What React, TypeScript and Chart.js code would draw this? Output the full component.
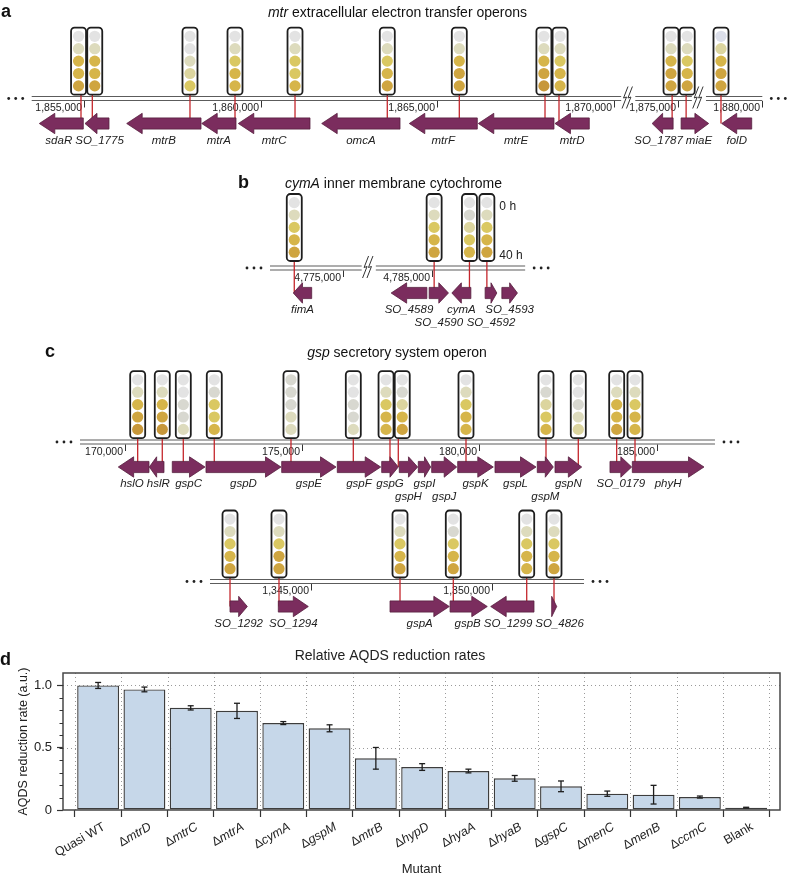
import React, { useEffect, useRef } from "react";
import { Chart, registerables } from "chart.js";

Chart.register(...registerables);

const FONT = '"Liberation Sans", Arial, Helvetica, sans-serif';
Chart.defaults.font.family = FONT;
Chart.defaults.color = "#222";

/* ===================== DATA ===================== */

// colour of each well (0 h ... 40 h), index into WELL_COLORS
const WELL_COLORS = ["#e3e3e3", "#d8d8d0", "#dddbbd", "#dcd59f", "#dac862", "#d6b54a", "#cfa540", "#c7973a", "#dcdfea"];

// ---- panel a : mtr extracellular electron transfer operons ----
const aTitle = ["mtr", " extracellular electron transfer operons"];
const aGenes = ["sdaR", "SO_1775", "mtrB", "mtrA", "mtrC", "omcA", "mtrF", "mtrE", "mtrD", "SO_1787", "miaE", "folD"];
const aStarts = [1853735, 1855028, 1856208, 1858331, 1859366, 1861726, 1864205, 1866157, 1868327, 1874276, 1875096, 1878851];
const aEnds = [1854980, 1855707, 1858311, 1859301, 1861395, 1863942, 1866129, 1868299, 1869298, 1874870, 1875877, 1879700];
const aStrands = [-1, -1, -1, -1, -1, -1, -1, -1, -1, -1, 1, -1];
const aRows = [0, 0, 0, 0, 0, 0, 0, 0, 0, 0, 0, 0];
const aInserts = [1854915, 1855235, 1857999, 1859273, 1860971, 1863582, 1865620, 1868045, 1868441, 1874842, 1875238, 1878831];
const aWells = [[0, 2, 5, 5, 6], [0, 2, 5, 5, 6], [0, 0, 2, 3, 4], [0, 2, 4, 5, 5], [0, 2, 4, 4, 5], [0, 2, 4, 5, 6], [0, 2, 5, 6, 6], [0, 2, 5, 6, 7], [0, 2, 4, 5, 5], [0, 2, 5, 6, 6], [0, 2, 4, 5, 6], [8, 3, 5, 6, 6]];
const aTicks = [1855000, 1860000, 1865000, 1870000, 1875000, 1880000];
const aSegments = [[1853520, 1870200], [1873800, 1875400], [1878406, 1880000]];

// ---- panel b : cymA inner membrane cytochrome ----
const bTitle = ["cymA", " inner membrane cytochrome"];
const bGenes = ["fimA", "SO_4589", "SO_4590", "cymA", "SO_4592", "SO_4593"];
const bStarts = [4773602, 4783848, 4784924, 4785566, 4786508, 4786981];
const bEnds = [4774123, 4784859, 4785470, 4786104, 4786839, 4787422];
const bStrands = [-1, -1, 1, -1, 1, 1];
const bRows = [0, 0, 1, 0, 1, 0];
const bInserts = [4773630, 4785065, 4786064, 4786557];
const bWells = [[0, 2, 4, 5, 6], [0, 2, 4, 5, 6], [0, 1, 3, 4, 5], [0, 2, 4, 5, 6]];
const bTicks = [4775000, 4785000];
const bSegments = [[4772943, 4775538], [4783415, 4787640]];
const bTimeLabels = ["0 h", "40 h"];

// ---- panel c : gsp secretory system operon (two loci) ----
const cTitle = ["gsp", " secretory system operon"];
const c1Genes = ["hslO", "hslR", "gspC", "gspD", "gspE", "gspF", "gspG", "gspH", "gspI", "gspJ", "gspK", "gspL", "gspM", "gspN", "SO_0179", "phyH"];
const c1Starts = [169811, 170686, 171334, 172285, 174421, 175989, 177242, 177738, 178274, 178652, 179386, 180438, 181631, 182131, 183682, 184312];
const c1Ends = [170677, 171100, 172257, 174401, 175953, 177214, 177710, 178257, 178624, 179358, 180390, 181595, 182083, 182884, 184294, 186334];
const c1Strands = [-1, -1, 1, 1, 1, 1, 1, 1, 1, 1, 1, 1, 1, 1, 1, 1];
const c1Rows = [0, 0, 0, 0, 0, 0, 0, 1, 0, 1, 0, 0, 1, 0, 0, 0];
const c1Inserts = [170358, 171052, 171645, 172519, 174683, 176441, 177476, 177710, 179620, 181877, 182788, 183871, 184388];
const c1Wells = [[0, 2, 5, 6, 7], [0, 2, 5, 6, 7], [0, 0, 1, 1, 2], [0, 1, 4, 4, 5], [1, 1, 1, 2, 2], [0, 0, 1, 1, 2], [0, 2, 4, 5, 5], [0, 1, 3, 5, 6], [0, 2, 4, 5, 5], [0, 1, 3, 4, 5], [0, 0, 1, 2, 3], [0, 2, 5, 5, 6], [0, 2, 4, 5, 5]];
const c1Ticks = [170000, 175000, 180000, 185000];
const c1Segments = [[168730, 186644]];

const c2Genes = ["SO_1292", "SO_1294", "gspA", "gspB", "SO_1299", "SO_4826"];
const c2Starts = [1342771, 1344105, 1347191, 1348850, 1349972, 1351657];
const c2Ends = [1343249, 1344934, 1348829, 1349878, 1351168, 1351796];
const c2Strands = [1, 1, 1, 1, -1, 1];
const c2Rows = [0, 0, 0, 0, 0, 0];
const c2Inserts = [1342771, 1344124, 1347467, 1348939, 1350967, 1351721];
const c2Wells = [[0, 2, 4, 5, 6], [0, 2, 4, 6, 6], [0, 2, 4, 5, 6], [0, 1, 4, 5, 6], [0, 2, 4, 5, 5], [0, 2, 4, 5, 6]];
const c2Ticks = [1345000, 1350000];
const c2Segments = [[1342218, 1352550]];

// ---- panel d : relative AQDS reduction rates ----
const dTitle = "Relative AQDS reduction rates";
const mutants = ["Quasi WT", "\u0394mtrD", "\u0394mtrC", "\u0394mtrA", "\u0394cymA", "\u0394gspM", "\u0394mtrB", "\u0394hypD", "\u0394hyaA", "\u0394hyaB", "\u0394gspC", "\u0394menC", "\u0394menB", "\u0394ccmC", "Blank"];
const rates = [1.0, 0.968, 0.82, 0.796, 0.698, 0.656, 0.415, 0.345, 0.313, 0.254, 0.19, 0.131, 0.123, 0.104, 0.019];
const rateErrors = [0.024, 0.019, 0.017, 0.061, 0.012, 0.028, 0.087, 0.027, 0.015, 0.023, 0.043, 0.021, 0.075, 0.008, 0.003];
const yTicks = [0, 0.5, 1.0];

/* ===================== LAYOUT ===================== */

const GAP_BP = 400; // display width of an axis break, in bp

const TRACKS = [
  { axis: "xa", range: [1852623, 1874921], lineY: 96.5, tubeGap: 1.8, genes: aGenes, starts: aStarts, ends: aEnds, strands: aStrands, rows: aRows, inserts: aInserts, wells: aWells, ticks: aTicks, segments: aSegments },
  { axis: "xb", range: [4765303, 4787601], lineY: 266, tubeGap: 5, genes: bGenes, starts: bStarts, ends: bEnds, strands: bStrands, rows: bRows, inserts: bInserts, wells: bWells, ticks: bTicks, segments: bSegments, times: bTimeLabels },
  { axis: "xc1", range: [166474, 188704], lineY: 440, tubeGap: 1.8, genes: c1Genes, starts: c1Starts, ends: c1Ends, strands: c1Strands, rows: c1Rows, inserts: c1Inserts, wells: c1Wells, ticks: c1Ticks, segments: c1Segments },
  { axis: "xc2", range: [1336417, 1358185], lineY: 579.5, tubeGap: 2, genes: c2Genes, starts: c2Starts, ends: c2Ends, strands: c2Strands, rows: c2Rows, inserts: c2Inserts, wells: c2Wells, ticks: c2Ticks, segments: c2Segments },
];

const HEADINGS = [
  { letter: "a", lx: 1, title: aTitle, cx: 397.5, y: 16.5 },
  { letter: "b", lx: 238, title: bTitle, cx: 393.5, y: 187.5 },
  { letter: "c", lx: 45, title: cTitle, cx: 397, y: 356.5 },
];

/* ===================== HELPERS ===================== */

function makeCompressor(segs: number[][]) {
  const skips = [0];
  for (let i = 1; i < segs.length; i++) skips.push(segs[i][0] - (segs[i - 1][1] - skips[i - 1]) - GAP_BP);
  return (g: number) => {
    let k = 0;
    for (let i = 0; i < segs.length; i++) if (g >= segs[i][0]) k = i;
    return g - skips[k];
  };
}

function spread(centers: number[], widths: number[], gap: number) {
  const order = centers.map((_, i) => i).sort((a, b) => centers[a] - centers[b]);
  const pos = order.map((i) => centers[i]);
  const w = order.map((i) => widths[i]);
  for (let it = 0; it < 300; it++) {
    let moved = false;
    for (let k = 1; k < pos.length; k++) {
      const need = (w[k - 1] + w[k]) / 2 + gap;
      const d = pos[k] - pos[k - 1];
      if (d < need - 0.01) {
        const s = (need - d) / 2;
        pos[k - 1] -= s;
        pos[k] += s;
        moved = true;
      }
    }
    if (!moved) break;
  }
  const out: number[] = new Array(centers.length);
  order.forEach((i, k) => (out[i] = pos[k]));
  return out;
}

function fontStr(size: number, italic = false, weight = "normal") {
  return `${italic ? "italic " : ""}${weight} ${size}px ${FONT}`;
}

function drawMixed(ctx: any, parts: [string, boolean][], x: number, y: number, align: string, size: number, weight = "normal") {
  const widths = parts.map(([t, it]) => {
    ctx.font = fontStr(size, it, weight);
    return ctx.measureText(t).width;
  });
  const total = widths.reduce((s, v) => s + v, 0);
  let cx = align === "center" ? x - total / 2 : align === "right" ? x - total : x;
  ctx.textAlign = "left";
  parts.forEach(([t, it], i) => {
    ctx.font = fontStr(size, it, weight);
    ctx.fillText(t, cx, y);
    cx += widths[i];
  });
}

function line(ctx: any, x1: number, y1: number, x2: number, y2: number) {
  ctx.beginPath();
  ctx.moveTo(x1, y1);
  ctx.lineTo(x2, y2);
  ctx.stroke();
}

function tubePath(ctx: any, x0: number, y0: number, w: number, h: number, r: number) {
  ctx.beginPath();
  ctx.moveTo(x0 + r, y0);
  ctx.lineTo(x0 + w - r, y0);
  ctx.arcTo(x0 + w, y0, x0 + w, y0 + r, r);
  ctx.lineTo(x0 + w, y0 + h - r);
  ctx.arcTo(x0 + w, y0 + h, x0 + w - r, y0 + h, r);
  ctx.lineTo(x0 + r, y0 + h);
  ctx.arcTo(x0, y0 + h, x0, y0 + h - r, r);
  ctx.lineTo(x0, y0 + r);
  ctx.arcTo(x0, y0, x0 + r, y0, r);
  ctx.closePath();
}

const TUBE_W = 15;
const TUBE_H = 67;

function drawTube(ctx: any, cx: number, bottom: number, wells: number[]) {
  const x0 = cx - TUBE_W / 2;
  const y0 = bottom - TUBE_H;
  tubePath(ctx, x0, y0, TUBE_W, TUBE_H, 3.5);
  ctx.fillStyle = "#ffffff";
  ctx.fill();
  wells.forEach((c, i) => {
    ctx.beginPath();
    ctx.arc(cx, y0 + 8.6 + i * 12.4, 5.6, 0, Math.PI * 2);
    ctx.fillStyle = WELL_COLORS[c];
    ctx.fill();
  });
  tubePath(ctx, x0, y0, TUBE_W, TUBE_H, 3.5);
  ctx.lineWidth = 1.8;
  ctx.strokeStyle = "#1e1e1e";
  ctx.stroke();
}

function drawArrow(ctx: any, xa: number, xb: number, strand: number, cy: number) {
  const x1 = Math.min(xa, xb);
  const x2 = Math.max(xa, xb);
  const len = x2 - x1;
  const head = len < 8 ? len : Math.min(15.5, len * 0.5);
  const bh = 5.6;
  const hh = 10.2;
  ctx.beginPath();
  if (strand > 0) {
    const hx = x2 - head;
    ctx.moveTo(x1, cy - bh);
    ctx.lineTo(hx, cy - bh);
    ctx.lineTo(hx, cy - hh);
    ctx.lineTo(x2, cy);
    ctx.lineTo(hx, cy + hh);
    ctx.lineTo(hx, cy + bh);
    ctx.lineTo(x1, cy + bh);
  } else {
    const hx = x1 + head;
    ctx.moveTo(x2, cy - bh);
    ctx.lineTo(hx, cy - bh);
    ctx.lineTo(hx, cy - hh);
    ctx.lineTo(x1, cy);
    ctx.lineTo(hx, cy + hh);
    ctx.lineTo(hx, cy + bh);
    ctx.lineTo(x2, cy + bh);
  }
  ctx.closePath();
  ctx.fillStyle = "#7b2d5e";
  ctx.fill();
  ctx.lineWidth = 0.8;
  ctx.strokeStyle = "#57203f";
  ctx.stroke();
}

function drawBreak(ctx: any, cx: number, cy: number) {
  ctx.strokeStyle = "#333";
  ctx.lineWidth = 1;
  for (const dx of [-2.2, 2.2]) {
    ctx.beginPath();
    ctx.moveTo(cx + dx + 3, cy - 11);
    ctx.lineTo(cx + dx - 1.5, cy + 0.5);
    ctx.lineTo(cx + dx + 1.5, cy - 0.5);
    ctx.lineTo(cx + dx - 3, cy + 11);
    ctx.stroke();
  }
}

function drawTrack(ctx: any, scale: any, t: any) {
  const comp = makeCompressor(t.segments);
  const px = (g: number) => scale.getPixelForValue(comp(g));
  const L = t.lineY;

  // genome double line
  ctx.strokeStyle = "#5c5c5c";
  ctx.lineWidth = 1.1;
  t.segments.forEach(([s, e]: number[]) => {
    const x1 = px(s);
    const x2 = px(e);
    line(ctx, x1, L, x2, L);
    line(ctx, x1, L + 4, x2, L + 4);
  });
  // dots
  const first = px(t.segments[0][0]);
  const last = px(t.segments[t.segments.length - 1][1]);
  ctx.fillStyle = "#222";
  for (const d of [9, 16, 23]) {
    ctx.beginPath();
    ctx.arc(first - d, L + 2, 1.4, 0, Math.PI * 2);
    ctx.fill();
    ctx.beginPath();
    ctx.arc(last + d, L + 2, 1.4, 0, Math.PI * 2);
    ctx.fill();
  }
  // breaks
  for (let i = 1; i < t.segments.length; i++) {
    const cx = (px(t.segments[i - 1][1]) + px(t.segments[i][0])) / 2 - 1;
    drawBreak(ctx, cx, L + 1);
  }
  // ticks
  ctx.strokeStyle = "#333";
  ctx.lineWidth = 1;
  ctx.fillStyle = "#222";
  ctx.font = fontStr(10.5);
  ctx.textAlign = "right";
  ctx.textBaseline = "alphabetic";
  t.ticks.forEach((g: number) => {
    const x = Math.round(px(g)) + 0.5;
    line(ctx, x, L + 4.5, x, L + 11);
    ctx.fillText(g.toLocaleString("en-US"), x - 2.5, L + 14.5);
  });

  const ins = t.inserts.map(px);
  const tubeX = spread(ins, ins.map(() => TUBE_W), 1.2);
  const tubeBottom = L - t.tubeGap;
  const arrowY = L + 27;

  // red insertion lines
  ctx.strokeStyle = "#c4262c";
  ctx.lineWidth = 1.3;
  ins.forEach((x: number) => line(ctx, x, tubeBottom, x, arrowY));

  // gene arrows
  t.genes.forEach((_: string, i: number) => drawArrow(ctx, px(t.starts[i]), px(t.ends[i]), t.strands[i], arrowY));

  // tubes
  tubeX.forEach((x: number, i: number) => drawTube(ctx, x, tubeBottom, t.wells[i]));

  // time labels
  if (t.times) {
    const xr = Math.max(...tubeX) + TUBE_W / 2 + 5;
    const y0 = tubeBottom - TUBE_H;
    ctx.fillStyle = "#222";
    ctx.font = fontStr(12);
    ctx.textAlign = "left";
    ctx.fillText(t.times[0], xr, y0 + 8.6 + 7);
    ctx.fillText(t.times[1], xr, y0 + 8.6 + 4 * 12.4 + 7);
  }

  // gene labels
  ctx.fillStyle = "#222";
  ctx.font = fontStr(11.5, true);
  ctx.textAlign = "center";
  for (const row of [0, 1]) {
    const idx = t.genes.map((_: string, i: number) => i).filter((i: number) => t.rows[i] === row);
    if (!idx.length) continue;
    const centers = idx.map((i: number) => (px(t.starts[i]) + px(t.ends[i])) / 2);
    const widths = idx.map((i: number) => ctx.measureText(t.genes[i]).width);
    const pos = spread(centers, widths, 3);
    idx.forEach((i: number, k: number) => ctx.fillText(t.genes[i], pos[k], L + 47 + row * 13));
  }
}

const diagramPlugin = {
  id: "diagram",
  afterDraw(chart: any) {
    const ctx = chart.ctx;
    ctx.save();
    TRACKS.forEach((t) => drawTrack(ctx, chart.scales[t.axis], t));
    ctx.fillStyle = "#111";
    ctx.textBaseline = "alphabetic";
    HEADINGS.forEach((h) => {
      ctx.font = fontStr(18, false, "bold");
      ctx.textAlign = "left";
      ctx.fillText(h.letter, h.lx, h.y);
      drawMixed(ctx, [[h.title[0], true], [h.title[1], false]], h.cx, h.y, "center", 14);
    });
    ctx.restore();
  },
};

function diagramConfig(): any {
  const scales: any = { y: { type: "linear", display: false, min: 0, max: 1 } };
  TRACKS.forEach((t) => {
    scales[t.axis] = { type: "linear", axis: "x", position: "bottom", display: false, min: t.range[0], max: t.range[1] };
  });
  return {
    type: "scatter",
    data: { datasets: [] },
    options: {
      animation: false,
      responsive: false,
      events: [],
      layout: { padding: 0 },
      plugins: { legend: { display: false }, tooltip: { enabled: false } },
      scales,
    },
    plugins: [diagramPlugin],
  };
}

/* ===================== PANEL d ===================== */

const barDecor = {
  id: "barDecor",
  beforeDatasetsDraw(chart: any) {
    const { ctx, chartArea: a, scales } = chart;
    const x = scales.x;
    const y = scales.y;
    ctx.save();
    ctx.strokeStyle = "#9a9a9a";
    ctx.lineWidth = 1;
    ctx.setLineDash([1, 3]);
    x.ticks.forEach((t: any) => {
      const p = Math.round(x.getPixelForValue(t.value)) + 0.5;
      line(ctx, p, a.top, p, a.bottom);
    });
    y.ticks.forEach((t: any) => {
      if (t.value <= 0) return;
      const p = Math.round(y.getPixelForValue(t.value)) + 0.5;
      line(ctx, a.left, p, a.right, p);
    });
    ctx.restore();
  },
  afterDatasetsDraw(chart: any) {
    const { ctx, chartArea: a, scales } = chart;
    const x = scales.x;
    const y = scales.y;
    ctx.save();
    // frame
    ctx.strokeStyle = "#474747";
    ctx.lineWidth = 1.5;
    ctx.strokeRect(a.left, a.top, a.right - a.left, a.bottom - a.top);
    // minor ticks
    ctx.lineWidth = 1;
    ctx.strokeStyle = "#333";
    for (let k = 1; k <= 10; k++) {
      const p = Math.round(y.getPixelForValue(k / 10)) + 0.5;
      line(ctx, a.left - 3.5, p, a.left, p);
    }
    // error bars
    ctx.strokeStyle = "#1e1e1e";
    ctx.lineWidth = 1.3;
    rates.forEach((v, i) => {
      const cx = x.getPixelForValue(i);
      const y1 = y.getPixelForValue(v + rateErrors[i]);
      const y2 = y.getPixelForValue(v - rateErrors[i]);
      line(ctx, cx, y1, cx, y2);
      line(ctx, cx - 3, y1, cx + 3, y1);
      line(ctx, cx - 3, y2, cx + 3, y2);
    });
    // category labels
    ctx.fillStyle = "#222";
    ctx.textBaseline = "middle";
    mutants.forEach((m, i) => {
      ctx.save();
      ctx.translate(x.getPixelForValue(i) + 6, a.bottom + 16);
      ctx.rotate(-Math.PI / 6);
      const parts: [string, boolean][] = m.startsWith("\u0394") ? [["\u0394", false], [m.slice(1), true]] : [[m, false]];
      drawMixed(ctx, parts, 0, 0, "right", 12.5);
      ctx.restore();
    });
    // x title
    ctx.font = fontStr(13);
    ctx.textAlign = "center";
    ctx.textBaseline = "middle";
    ctx.fillText("Mutant", (a.left + a.right) / 2, 229);
    // panel letter
    ctx.fillStyle = "#111";
    ctx.font = fontStr(18, false, "bold");
    ctx.textAlign = "left";
    ctx.textBaseline = "alphabetic";
    ctx.fillText("d", 0, 25);
    ctx.restore();
  },
};

function barConfig(): any {
  const boundaries = mutants.map((_, i) => i - 0.5).concat([mutants.length - 0.5]);
  return {
    type: "bar",
    data: {
      datasets: [
        {
          data: rates.map((v, i) => ({ x: i, y: v })),
          backgroundColor: "#c6d7e9",
          borderColor: "#3d3d3d",
          borderWidth: 1.4,
          borderSkipped: false,
          barPercentage: 0.905,
          categoryPercentage: 1,
        },
      ],
    },
    options: {
      animation: false,
      responsive: false,
      events: [],
      layout: { padding: { left: 0, right: 8, top: 0, bottom: 0 } },
      plugins: {
        legend: { display: false },
        tooltip: { enabled: false },
        title: { display: true, text: dTitle, color: "#222", font: { family: FONT, size: 14, weight: "normal" }, padding: { top: 8, bottom: 8.2 } },
      },
      scales: {
        x: {
          type: "linear",
          min: -0.759,
          max: 14.731,
          offset: false,
          afterBuildTicks: (s: any) => {
            s.ticks = boundaries.map((v) => ({ value: v }));
          },
          afterFit: (s: any) => {
            s.height = 69;
          },
          ticks: { display: false },
          grid: { offset: false, drawOnChartArea: false, drawTicks: true, tickLength: 7, tickColor: "#333", tickWidth: 1.2 },
          border: { display: false },
        },
        y: {
          type: "linear",
          min: 0,
          max: 1.1,
          afterBuildTicks: (s: any) => {
            s.ticks = yTicks.map((v) => ({ value: v }));
          },
          afterFit: (s: any) => {
            s.width = 63;
          },
          ticks: {
            callback: (v: any) => (Number(v) === 0 ? "0" : Number(v).toFixed(1)),
            color: "#222",
            font: { family: FONT, size: 13 },
            padding: 5,
          },
          grid: { drawOnChartArea: false, drawTicks: true, tickLength: 6, tickColor: "#333", tickWidth: 1.2 },
          border: { display: false },
          title: { display: true, text: "AQDS reduction rate (a.u.)", color: "#222", font: { family: FONT, size: 12.5 }, padding: { top: 16, bottom: 0 } },
        },
      },
    },
    plugins: [barDecor],
  };
}

/* ===================== APP ===================== */

export default function App() {
  const topRef = useRef<HTMLCanvasElement>(null);
  const botRef = useRef<HTMLCanvasElement>(null);

  useEffect(() => {
    const top = new Chart(topRef.current as HTMLCanvasElement, diagramConfig());
    const bot = new Chart(botRef.current as HTMLCanvasElement, barConfig());
    return () => {
      top.destroy();
      bot.destroy();
    };
  }, []);

  return (
    <div style={{ position: "fixed", left: 0, top: 0, width: 788, height: 879, background: "#ffffff", overflow: "hidden" }}>
      <canvas ref={topRef} width={788} height={640} style={{ position: "absolute", left: 0, top: 0, width: 788, height: 640 }} />
      <canvas ref={botRef} width={788} height={239} style={{ position: "absolute", left: 0, top: 640, width: 788, height: 239 }} />
    </div>
  );
}
